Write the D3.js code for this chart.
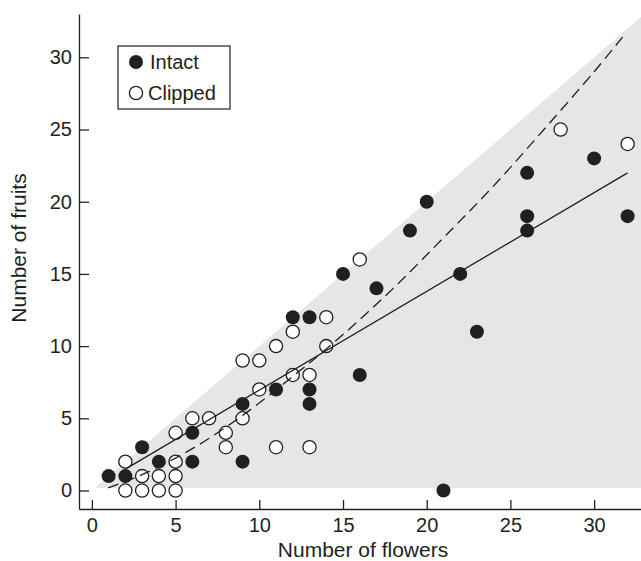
<!DOCTYPE html>
<html>
<head>
<meta charset="utf-8">
<script src="https://cdn.jsdelivr.net/npm/d3@7"></script>
<style>
  body { margin: 0; background: #fff; }
  svg { display: block; font-family: "Liberation Sans", Arial, sans-serif; }
  .axis path, .axis line { stroke: #231f20; stroke-width: 1.3; }
  .axis text { font-size: 20px; fill: #231f20; }
</style>
</head>
<body>
<script>
// data
var intactFlowers = [1, 2, 3, 4, 6, 6, 9, 9, 11, 12, 13, 13, 13, 15, 16, 17, 19, 20, 21, 22, 23, 26, 26, 26, 30, 32];
var intactFruits  = [1, 1, 3, 2, 4, 2, 6, 2, 7, 12, 12, 7, 6, 15, 8, 14, 18, 20, 0, 15, 11, 22, 19, 18, 23, 19];

var clippedFlowers = [2, 2, 3, 3, 4, 4, 5, 5, 5, 5, 6, 7, 8, 8, 9, 9, 10, 10, 11, 11, 12, 12, 13, 13, 14, 14, 16, 28, 32];
var clippedFruits  = [2, 0, 1, 0, 1, 0, 4, 2, 1, 0, 5, 5, 4, 3, 9, 5, 9, 7, 10, 3, 11, 8, 8, 3, 12, 10, 16, 25, 24];

// fitted lines, points
var solidFit  = [[2.1, 1.55], [32, 22.0]];
var dashedFit = [[0.97, 0.18], [3, 1.1], [6, 2.9], [9, 5.2], [12, 7.9], [15, 10.8], [18, 14.0],
                 [21, 17.5], [24, 21.1], [27, 25.0], [30, 29.0], [31.7, 31.4]];

// region where fruits <= flowers
var feasible = [[0.17, 0.17], [33.5, 33.5], [33.5, 0.17]];

var xTicks = [0, 5, 10, 15, 20, 25, 30];
var yTicks = [0, 5, 10, 15, 20, 25, 30];
var seriesNames = ["Intact", "Clipped"];

var width = 641, height = 561;

var svg = d3.select("body").append("svg")
            .attr("width", width)
            .attr("height", height);

var x = d3.scaleLinear().domain([-0.77, 32.8]).range([79, 641]);
var y = d3.scaleLinear().domain([-1.28, 33]).range([509, 14]);

svg.append("defs").append("clipPath").attr("id", "plot")
   .append("rect").attr("x", 79).attr("y", 0).attr("width", width - 79).attr("height", 509);

// grey feasible area
svg.append("path")
   .attr("clip-path", "url(#plot)")
   .attr("d", d3.line().x(function(d) { return x(d[0]); }).y(function(d) { return y(d[1]); })(feasible) + "Z")
   .attr("fill", "#e5e6e7");

// points
var intact = intactFlowers.map(function(f, i) { return { x: f, y: intactFruits[i] }; });
var clipped = clippedFlowers.map(function(f, i) { return { x: f, y: clippedFruits[i] }; });

svg.append("g").selectAll("circle")
   .data(intact).enter()
   .append("circle")
   .attr("cx", function(d) { return x(d.x); })
   .attr("cy", function(d) { return y(d.y); })
   .attr("r", 7)
   .attr("fill", "#231f20");

svg.append("g").selectAll("circle")
   .data(clipped).enter()
   .append("circle")
   .attr("cx", function(d) { return x(d.x); })
   .attr("cy", function(d) { return y(d.y); })
   .attr("r", 6.6)
   .attr("fill", "#fff")
   .attr("stroke", "#231f20")
   .attr("stroke-width", 1.3);

// fit lines
var line = d3.line().x(function(d) { return x(d[0]); }).y(function(d) { return y(d[1]); });

svg.append("path")
   .attr("d", line(solidFit))
   .attr("fill", "none")
   .attr("stroke", "#231f20")
   .attr("stroke-width", 1.3);

svg.append("path")
   .attr("d", line.curve(d3.curveCatmullRom)(dashedFit))
   .attr("fill", "none")
   .attr("stroke", "#231f20")
   .attr("stroke-width", 1.3)
   .attr("stroke-dasharray", "11,6");

// axes (ticks point inward)
svg.append("g")
   .attr("class", "axis")
   .attr("transform", "translate(0,509)")
   .call(d3.axisBottom(x).tickValues(xTicks).tickSizeInner(-9).tickSizeOuter(0).tickPadding(9));

svg.append("g")
   .attr("class", "axis")
   .attr("transform", "translate(79,0)")
   .call(d3.axisLeft(y).tickValues(yTicks).tickSizeInner(-10).tickSizeOuter(0).tickPadding(7));

// axis titles
svg.append("text")
   .attr("x", 363)
   .attr("y", 557)
   .attr("text-anchor", "middle")
   .attr("font-size", 21)
   .attr("fill", "#231f20")
   .text("Number of flowers");

svg.append("text")
   .attr("transform", "translate(26,248) rotate(-90)")
   .attr("text-anchor", "middle")
   .attr("font-size", 21)
   .attr("fill", "#231f20")
   .text("Number of fruits");

// legend
var legend = svg.append("g");
legend.append("rect")
      .attr("x", 118).attr("y", 46)
      .attr("width", 112).attr("height", 63)
      .attr("fill", "#fff")
      .attr("stroke", "#231f20")
      .attr("stroke-width", 1.2);

legend.selectAll("circle")
      .data(seriesNames).enter()
      .append("circle")
      .attr("cx", 136)
      .attr("cy", function(d, i) { return 62 + i * 31; })
      .attr("r", function(d, i) { return i == 0 ? 7 : 6.6; })
      .attr("fill", function(d, i) { return i == 0 ? "#231f20" : "#fff"; })
      .attr("stroke", "#231f20")
      .attr("stroke-width", function(d, i) { return i == 0 ? 0 : 1.3; });

legend.selectAll("text")
      .data(seriesNames).enter()
      .append("text")
      .attr("x", function(d, i) { return i == 0 ? 150 : 148; })
      .attr("y", function(d, i) { return 69 + i * 31; })
      .attr("font-size", 20)
      .attr("fill", "#231f20")
      .text(function(d) { return d; });
</script>
</body>
</html>
